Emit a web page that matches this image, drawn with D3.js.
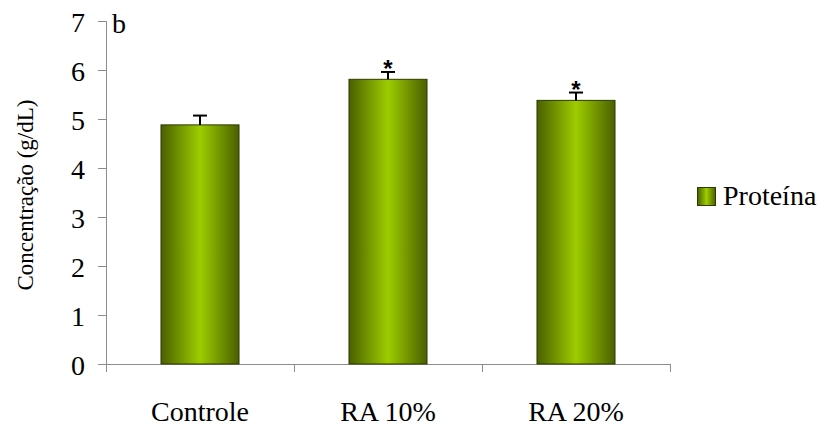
<!DOCTYPE html>
<html><head><meta charset="utf-8">
<script src="https://cdn.jsdelivr.net/npm/d3@7"></script>
<style>body{margin:0;background:#fff}svg{display:block}</style>
</head><body><svg id="c" width="822" height="426" font-family="'Liberation Serif', 'Times New Roman', serif"></svg>
<script>
const categories = ["Controle", "RA 10%", "RA 20%"];
const values = [4.88, 5.81, 5.38];
const errors = [0.19, 0.15, 0.16];
const significant = [false, true, true];
const yTicks = [0, 1, 2, 3, 4, 5, 6, 7];
const seriesName = "Proteína";
const yTitle = "Concentração (g/dL)";
const panelLabel = "b";

const svg = d3.select("#c");
const m = {left: 106, right: 670, top: 21, bottom: 364};
const x = d3.scaleBand().domain(categories).range([m.left, m.right]).paddingInner(0.585).paddingOuter(0.2925);
const y = d3.scaleLinear().domain([0, 7]).range([m.bottom, m.top]);

const defs = svg.append("defs");
const g1 = defs.append("linearGradient").attr("id", "bg").attr("x1", "0").attr("x2", "1").attr("y1", "0").attr("y2", "0");
g1.append("stop").attr("offset", "0").attr("stop-color", "#4a6000");
g1.append("stop").attr("offset", "0.5").attr("stop-color", "#9dcc00");
g1.append("stop").attr("offset", "1").attr("stop-color", "#4a6000");

// y axis
const axisColor = "#8c8c8c";
svg.append("line").attr("x1", m.left + 0.5).attr("x2", m.left + 0.5).attr("y1", y(7)).attr("y2", y(0)).attr("stroke", axisColor);
svg.selectAll(".yt").data(yTicks).join("line").attr("x1", m.left - 8).attr("x2", m.left)
  .attr("y1", d => Math.round(y(d)) + 0.5).attr("y2", d => Math.round(y(d)) + 0.5).attr("stroke", axisColor);
svg.selectAll(".yl").data(yTicks).join("text").attr("x", 85).attr("y", d => y(d) + 11)
  .attr("text-anchor", "end").attr("font-size", 28).text(d => d);

// x axis
svg.append("line").attr("x1", m.left).attr("x2", m.right).attr("y1", y(0) + 0.5).attr("y2", y(0) + 0.5).attr("stroke", axisColor);
const step = (m.right - m.left) / categories.length;
const bounds = d3.range(categories.length + 1).map(i => m.left + i * step);
svg.selectAll(".xt").data(bounds).join("line").attr("x1", d => Math.round(d) + 0.5).attr("x2", d => Math.round(d) + 0.5)
  .attr("y1", y(0)).attr("y2", y(0) + 8).attr("stroke", axisColor);
svg.selectAll(".xl").data(categories).join("text").attr("x", d => x(d) + x.bandwidth() / 2).attr("y", 421)
  .attr("text-anchor", "middle").attr("font-size", 28).text(d => d);

// bars
const data = categories.map((c, i) => ({c, v: values[i], e: errors[i], s: significant[i]}));
svg.selectAll(".bar").data(data).join("rect").attr("x", d => x(d.c)).attr("width", x.bandwidth())
  .attr("y", d => y(d.v)).attr("height", d => y(0) - y(d.v)).attr("fill", "url(#bg)")
  .attr("stroke", "#2e3a00").attr("stroke-width", 1);

// error bars
const eb = svg.selectAll(".eb").data(data).join("g");
eb.append("line").attr("x1", d => x(d.c) + x.bandwidth() / 2).attr("x2", d => x(d.c) + x.bandwidth() / 2)
  .attr("y1", d => y(d.v)).attr("y2", d => y(d.v + d.e)).attr("stroke", "#000").attr("stroke-width", 2);
eb.append("line").attr("x1", d => x(d.c) + x.bandwidth() / 2 - 7).attr("x2", d => x(d.c) + x.bandwidth() / 2 + 7)
  .attr("y1", d => y(d.v + d.e)).attr("y2", d => y(d.v + d.e)).attr("stroke", "#000").attr("stroke-width", 2);

// significance
svg.selectAll(".sig").data(data.filter(d => d.s)).join("text")
  .attr("x", d => x(d.c) + x.bandwidth() / 2).attr("y", d => y(d.v + d.e) + 5)
  .attr("text-anchor", "middle").attr("font-size", 24).attr("font-weight", "bold")
  .attr("font-family", "'Liberation Sans', Arial, sans-serif").text("*");

// panel label
svg.append("text").attr("x", 112).attr("y", 33).attr("font-size", 28).text(panelLabel);

// y title
svg.append("text").attr("transform", `translate(33,${195}) rotate(-90)`)
  .attr("text-anchor", "middle").attr("font-size", 23).text(yTitle);

// legend
svg.append("rect").attr("x", 697.5).attr("y", 187.5).attr("width", 18).attr("height", 18)
  .attr("fill", "url(#bg)").attr("stroke", "#2e3a00");
svg.append("text").attr("x", 723).attr("y", 205).attr("font-size", 28).text(seriesName);
</script></body></html>
